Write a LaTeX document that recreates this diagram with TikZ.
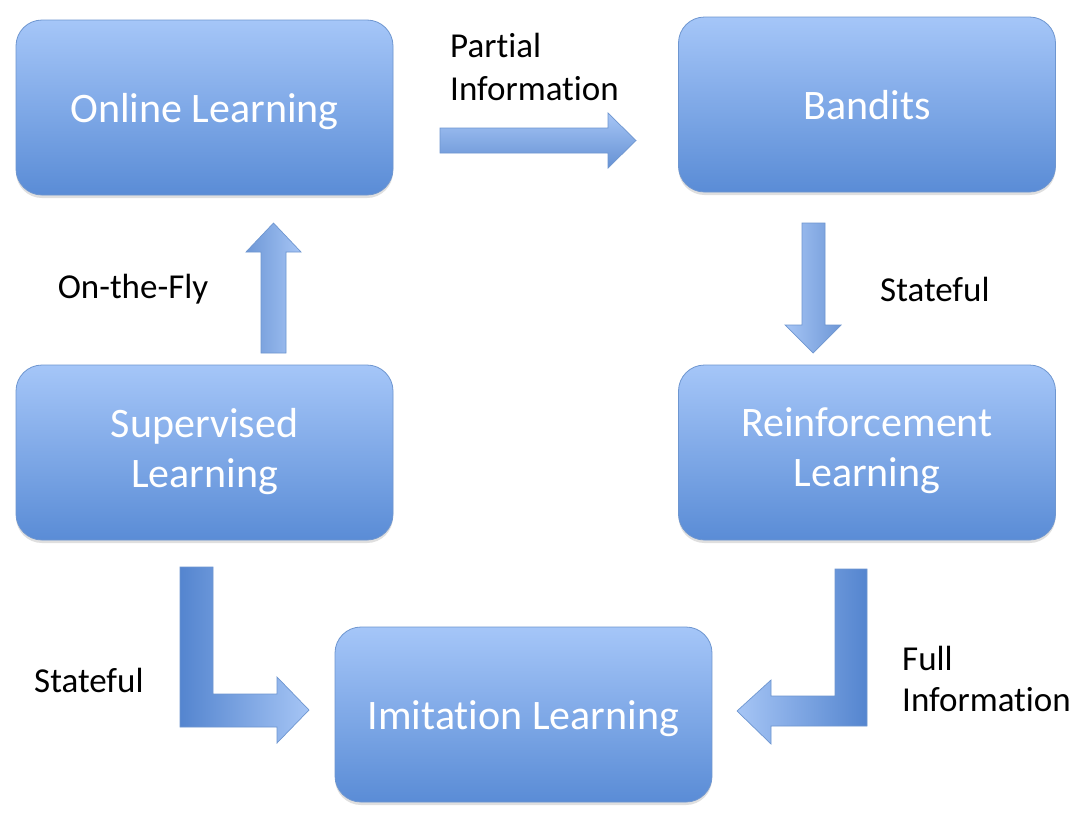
\documentclass[tikz,border=0pt]{standalone}
\usepackage{fontspec}
\setmainfont{Carlito}[Ligatures=CommonOff]
\usetikzlibrary{shadows}
\definecolor{boxtop}{HTML}{A5C6F8}
\definecolor{boxbot}{HTML}{5A8CD6}
\definecolor{boxline}{HTML}{6E96D0}
\definecolor{arrdark}{HTML}{5485CF}
\definecolor{arrlight}{HTML}{A6C5F5}
\begin{document}
\begin{tikzpicture}[x=1pt,y=-1pt,
  bluebox/.style={rounded corners=26pt, minimum width=377pt, minimum height=175pt,
    top color=boxtop, bottom color=boxbot, draw=boxline, line width=0.8pt,
    text=white, align=center, font=\fontsize{42}{50}\selectfont,
    execute at begin node=\rule[-10pt]{0pt}{50pt},
    drop shadow={opacity=0.25, shadow xshift=0pt, shadow yshift=-3pt}},
  lbl/.style={text=black, font=\fontsize{35}{43}\selectfont, inner sep=0pt},
  blockarrow/.style={draw=boxline, line width=0.7pt, line join=miter}]
\useasboundingbox (0,0) rectangle (1086,838);
\fill[white] (0,0) rectangle (1086,838);

\node[bluebox] (online) at (204.5,107.5) {Online Learning};
\node[bluebox] (bandits) at (867,104.5) {Bandits};
\node[bluebox] (supervised) at (204.5,452.5) {Supervised\\Learning};
\node[bluebox] (reinforcement) at (867,452.5) {Reinforcement\\Learning};
\node[bluebox] (imitation) at (523.5,714.5) {Imitation Learning};

% Partial information arrow
\shade[blockarrow, top color=arrlight, bottom color=arrdark!90]
  (440,128) -- (608,128) -- (608,113) -- (636,140.5) -- (608,168) -- (608,153) -- (440,153) -- cycle;
\node[lbl, anchor=north west, align=left] (pilbl) at (450,33) {Partial\\Information};

% On-the-fly arrow
\shade[blockarrow, left color=arrdark!85, right color=arrlight]
  (261,353) -- (261,252) -- (246,252) -- (273.5,223) -- (301,252) -- (286,252) -- (286,353) -- cycle;
\node[lbl] (otf) at (133,289) {On-the-Fly};

% Stateful arrow (right)
\shade[blockarrow, left color=arrlight, right color=arrdark!85]
  (802,223) -- (825,223) -- (825,325) -- (841,325) -- (813,353) -- (785,325) -- (802,325) -- cycle;
\node[lbl, anchor=west] (stateR) at (880,289) {Stateful};

% Stateful L arrow (left)
\shade[blockarrow, left color=arrdark, right color=arrlight]
  (180,567) -- (213,567) -- (213,694) -- (277,694) -- (277,677) -- (309,710) -- (277,743) -- (277,727) -- (180,727) -- cycle;
\node[lbl, anchor=west] (stateL) at (34,680) {Stateful};

% Full information L arrow (right)
\shade[blockarrow, left color=arrlight, right color=arrdark]
  (867,569) -- (835,569) -- (835,696) -- (771,696) -- (771,680) -- (737,711) -- (771,744) -- (771,726) -- (867,726) -- cycle;
\node[lbl, anchor=north west, align=left, font=\fontsize{35}{41}\selectfont] (filbl) at (902,646) {Full\\Information};
\end{tikzpicture}
\end{document}
